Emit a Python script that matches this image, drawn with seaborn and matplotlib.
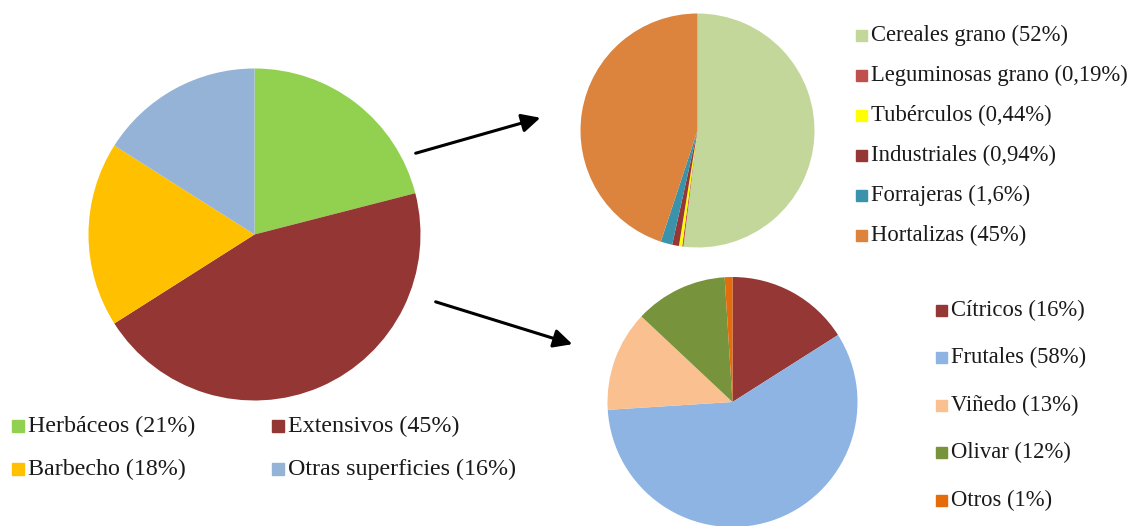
import matplotlib
matplotlib.use("Agg")
import matplotlib.pyplot as plt
import seaborn as sns
from matplotlib.patches import Rectangle

sns.set_theme(style="white")
plt.rcParams["font.family"] = ["Liberation Serif", "DejaVu Serif"]

# main pie: superficie total
main_labels = ["Herbáceos (21%)", "Extensivos (45%)", "Barbecho (18%)", "Otras superficies (16%)"]
main_values = [21, 45, 18, 16]
main_colors = ["#92D050", "#943634", "#FFC000", "#95B3D7"]

# herbáceos breakdown
herb_labels = ["Cereales grano (52%)", "Leguminosas grano (0,19%)", "Tubérculos (0,44%)",
               "Industriales (0,94%)", "Forrajeras (1,6%)", "Hortalizas (45%)"]
herb_values = [52, 0.19, 0.44, 0.94, 1.6, 45]
herb_colors = ["#C4D79B", "#C0504D", "#FFFF00", "#953735", "#3A93AA", "#DC843E"]

# leñosos breakdown
len_labels = ["Cítricos (16%)", "Frutales (58%)", "Viñedo (13%)", "Olivar (12%)", "Otros (1%)"]
len_values = [16, 58, 13, 12, 1]
len_colors = ["#953735", "#8DB4E2", "#FAC090", "#77933C", "#E46C0A"]

W, H = 1129, 526
fig = plt.figure(figsize=(W / 100, H / 100), dpi=100)


def pie_axes(cx, cy, r, values, colors):
    # cx, cy in pixels from top-left
    ax = fig.add_axes([(cx - r) / W, (H - cy - r) / H, 2 * r / W, 2 * r / H])
    ax.pie(values, colors=colors, startangle=90, counterclock=False,
           radius=1, wedgeprops=dict(linewidth=0))
    ax.set_xlim(-1, 1)
    ax.set_ylim(-1, 1)
    ax.set_aspect("equal")
    ax.axis("off")
    return ax


def legend(labels, colors, x, y0, dy, size, box):
    for i, (lab, col) in enumerate(zip(labels, colors)):
        y = H - (y0 + i * dy)
        fig.patches.append(Rectangle((x, y - box / 2), box, box, color=col,
                                     transform=None, figure=fig))
        fig.text((x + box + 4) / W, y / H, lab, fontsize=size, va="center",
                 ha="left", color="#1a1a1a")


ax_main = pie_axes(254.5, 234.5, 166, main_values, main_colors)
ax_herb = pie_axes(697.5, 130.5, 117, herb_values, herb_colors)
ax_len = pie_axes(732.5, 402, 125, len_values, len_colors)

# legends
for col in range(2):
    legend(main_labels[col::2], main_colors[col::2], 12 + col * 260, 426, 43, 17.3, 12)
legend(herb_labels, herb_colors, 856, 35, 40, 16.3, 11)
legend(len_labels, len_colors, 936, 310, 47.5, 16.3, 11)

# arrows from the main pie to the detail pies
arrow = dict(arrowstyle="-|>", color="black", lw=2.2, mutation_scale=28)
ax_main.annotate("", xy=(543, H - 117), xytext=(413, H - 154),
                 xycoords="figure pixels", textcoords="figure pixels", arrowprops=arrow,
                 annotation_clip=False)
ax_main.annotate("", xy=(575, H - 345), xytext=(433, H - 301),
                 xycoords="figure pixels", textcoords="figure pixels", arrowprops=arrow,
                 annotation_clip=False)

fig.savefig("out.png", dpi=100, facecolor="white")
